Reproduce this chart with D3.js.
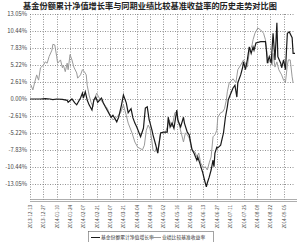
<!DOCTYPE html>
<html>
<head>
<meta charset="utf-8">
<script src="https://cdn.jsdelivr.net/npm/d3@7"></script>
<style>
  html, body { margin: 0; padding: 0; background: #fff; }
  svg { display: block; }
  text { font-family: "Noto Sans CJK SC", "DejaVu Sans", sans-serif; }
</style>
</head>
<body>
<svg id="chart" width="300" height="242"></svg>
<script>
// ---- data ----
var title = '基金份额累计净值增长率与同期业绩比较基准收益率的历史走势对比图';
var seriesNames = ['基金份额累计净值增长率', '业绩比较基准收益率'];

var tickLabels = ['2013-12-13', '2013-12-27', '2014-01-10', '2014-01-24', '2014-02-07',
  '2014-02-21', '2014-03-07', '2014-03-21', '2014-04-04', '2014-04-18',
  '2014-05-02', '2014-05-16', '2014-05-30', '2014-06-13', '2014-06-27',
  '2014-07-11', '2014-07-25', '2014-08-08', '2014-08-22', '2014-09-05'];
var tickDays = [0, 14, 28, 42, 56, 70, 84, 98, 112, 126, 140, 154, 168, 182, 196, 210, 224, 238, 252, 266];
var lastDay = 278;

var yTicks = [-13.05, -10.44, -7.83, -5.22, -2.61, 0, 2.61, 5.22, 7.83, 10.44, 13.05];

// fund: day offset / cumulative growth %
var fundDays = [0, 3, 11, 16, 21, 24, 28, 34, 39, 40, 44, 47, 49, 53, 55, 56, 58, 60, 62, 65,
  67, 69, 71, 75, 77, 79, 82, 85, 87, 91, 93, 96, 98, 101, 103, 106, 108, 110, 112, 116,
  119, 121, 123, 125, 126, 128, 129, 132, 134, 137, 140, 144, 145, 147, 149, 151, 154, 155, 158, 161,
  162, 165, 167, 170, 172, 175, 176, 178, 181, 183, 185, 186, 188, 190, 192, 193, 194, 196, 197, 200,
  202, 203, 205, 207, 208, 210, 213, 215, 217, 218, 221, 223, 224, 226, 228, 230, 232, 234, 235, 237,
  242, 247, 248, 249, 251, 253, 255, 256, 257, 259, 260, 263, 264, 266, 268, 270, 272, 275, 276, 278];
var fundValues = [0, 0, 0, 0.05, 0, -0.1, 0, -0.05, -0.2, -0.5, 0, -0.6, -0.9, 0.15, 0.9, 0.15, 1.1, -0.15, -0.9, -1.7,
  -0.15, 0.3, -0.5, 0.15, -0.6, -1.2, -2.0, -2.8, -2.5, -3.5, -2.8, -0.9, 0.6, -0.6, -2.1, -1.5, -2.9, -3.7, -4.3, -5.8,
  -4.5, -1.4, -1.2, -3.2, -3.7, -4.8, -5.5, -7.1, -8.3, -5.2, -5.1, -5.1, -2.8, -4.3, -3.7, -4.5, -1.7, -3.2, -4.3, -2.8,
  -3.7, -5.1, -5.5, -7.8, -8.3, -9.4, -8.9, -9.8, -11.2, -12.4, -13.5, -12.9, -12.0, -10.9, -9.4, -10.4, -8.3, -7.4, -7.5, -7.1,
  -5.8, -5.2, -2.8, -1.2, -0.15, 0.6, 1.7, 2.1, 0.3, 2.5, 3.7, 4.8, 5.7, 4.5, 6.0, 8.0, 7.0, 8.0, 7.5, 8.6,
  8.8, 8.8, 7.5, 5.5, 6.5, 5.5, 10.1, 8.0, 6.0, 11.7, 6.5, 5.5, 4.8, 6.0, 4.5, 10.1, 10.3, 9.4, 7.0, 7.0];

// benchmark: day offset / return %
var benchDays = [1, 3, 5, 7, 9, 11, 14, 16, 18, 20, 23, 24, 26, 28, 29, 32, 34, 35, 37, 39,
  40, 42, 44, 46, 49, 50, 53, 55, 57, 59, 60, 62, 64, 66, 67, 70, 72, 76, 78, 81,
  84, 87, 91, 95, 98, 101, 103, 107, 110, 113, 118, 120, 122, 124, 126, 128, 129, 131, 133, 134,
  137, 142, 144, 146, 149, 152, 154, 156, 160, 161, 163, 165, 167, 170, 173, 175, 177, 179, 182, 184,
  186, 188, 190, 192, 194, 196, 197, 200, 202, 204, 206, 207, 209, 212, 213, 216, 218, 221, 224, 228,
  230, 233, 234, 236, 239, 242, 245, 247, 249, 250, 252, 254, 255, 257, 259, 261, 264, 266, 268, 270,
  271, 273, 275, 276];
var benchValues = [2.15, 1.4, 2.6, 3.7, 2.9, 4.8, 5.2, 5.7, 5.5, 6.5, 7.5, 8.4, 8.3, 6.5, 5.5, 6.0, 4.8, 5.2, 4.2, 5.5,
  4.5, 6.8, 6.0, 4.9, 4.0, 3.2, 3.7, 4.5, 4.2, 3.7, 2.1, 0.6, -0.5, -1.2, -0.2, 0.9, 0.3, -0.5, -0.9, -1.4,
  -2.5, -3.2, -2.8, -2.1, -0.9, -2.5, -3.7, -5.2, -6.6, -7.4, -7.8, -7.1, -4.8, -4.0, -4.6, -6.6, -7.8, -8.1, -7.4, -8.3,
  -5.2, -5.2, -4.3, -3.2, -4.3, -2.1, -2.0, -3.7, -6.0, -6.6, -5.2, -5.5, -6.0, -7.8, -8.1, -8.9, -8.3, -9.8, -10.6, -10.4,
  -10.9, -9.8, -8.9, -5.8, -5.5, -4.8, -2.8, -2.1, -2.0, -1.5, -0.15, 1.1, 2.5, 2.9, 3.1, 2.5, 4.5, 5.2, 6.0, 4.9,
  7.2, 8.3, 9.1, 10.1, 10.9, 10.6, 10.1, 9.1, 6.5, 5.5, 6.0, 5.2, 7.0, 4.9, 5.7, 4.5, 3.7, 2.9, 2.6, 5.2,
  6.0, 6.0, 3.4, 2.5];

// ---- layout ----
var plotLeft = 30, plotRight = 295, plotTop = 14, minLineY = 184, plotBottom = 200;

var svg = d3.select('#chart');

var x = d3.scaleLinear().domain([0, lastDay]).range([plotLeft, plotRight]);
var y = d3.scaleLinear().domain([-13.05, 13.05]).range([minLineY, plotTop]);

svg.append('text')
  .attr('x', 150).attr('y', 8.5)
  .attr('text-anchor', 'middle')
  .attr('font-size', 8.2).attr('font-weight', 'bold')
  .attr('fill', '#222')
  .text(title);

// horizontal grid + y labels
var grid = svg.append('g').attr('class', 'grid');
grid.selectAll('line.h')
  .data(yTicks)
  .enter().append('line')
  .attr('class', 'h')
  .attr('x1', plotLeft).attr('x2', plotRight)
  .attr('y1', function (d) { return Math.round(y(d)) + 0.5; })
  .attr('y2', function (d) { return Math.round(y(d)) + 0.5; })
  .attr('stroke', '#777').attr('stroke-width', 0.8)
  .attr('stroke-dasharray', '1,1.5');

svg.append('g').selectAll('text')
  .data(yTicks)
  .enter().append('text')
  .attr('x', plotLeft - 3)
  .attr('y', function (d) { return y(d) + 2.2; })
  .attr('text-anchor', 'end')
  .attr('font-size', 5.8).attr('fill', '#444')
  .text(function (d) { return d.toFixed(2) + '%'; });

// vertical grid
grid.selectAll('line.v')
  .data(tickDays)
  .enter().append('line')
  .attr('class', 'v')
  .attr('x1', function (d) { return Math.round(x(d)) + 0.5; })
  .attr('x2', function (d) { return Math.round(x(d)) + 0.5; })
  .attr('y1', plotTop).attr('y2', plotBottom)
  .attr('stroke', '#777').attr('stroke-width', 0.8)
  .attr('stroke-dasharray', '1,1.5');

// double bottom axis line
[plotBottom - 0.5, plotBottom + 1.5].forEach(function (yy) {
  svg.append('line')
    .attr('x1', plotLeft).attr('x2', plotRight + 2)
    .attr('y1', yy).attr('y2', yy)
    .attr('stroke', '#999').attr('stroke-width', 0.8);
});

// x tick labels, rotated
svg.append('g').selectAll('text')
  .data(tickDays)
  .enter().append('text')
  .attr('transform', function (d) { return 'translate(' + (x(d) + 2) + ',' + (plotBottom + 5) + ') rotate(-90)'; })
  .attr('text-anchor', 'end')
  .attr('font-size', 4.6).attr('fill', '#444')
  .text(function (d, i) { return tickLabels[i]; });

// series
var line = d3.line()
  .x(function (d) { return x(d[0]); })
  .y(function (d) { return y(d[1]); });

var bench = benchDays.map(function (d, i) { return [d, benchValues[i]]; });
var fund = fundDays.map(function (d, i) { return [d, fundValues[i]]; });

svg.append('path')
  .datum(bench)
  .attr('d', line)
  .attr('fill', 'none')
  .attr('stroke', '#9a9a9a').attr('stroke-width', 1);

svg.append('path')
  .datum(fund)
  .attr('d', line)
  .attr('fill', 'none')
  .attr('stroke', '#1a1a1a').attr('stroke-width', 1.2);

// legend
var lg = svg.append('g').attr('transform', 'translate(88,231)');
lg.append('rect')
  .attr('x', 0.5).attr('y', 0.5).attr('width', 125).attr('height', 12)
  .attr('fill', '#fff').attr('stroke', '#666').attr('stroke-width', 0.6);
var items = [{ name: seriesNames[0], color: '#1a1a1a', x: 3 }, { name: seriesNames[1], color: '#9a9a9a', x: 64 }];
items.forEach(function (it) {
  lg.append('line')
    .attr('x1', it.x).attr('x2', it.x + 9)
    .attr('y1', 6.5).attr('y2', 6.5)
    .attr('stroke', it.color).attr('stroke-width', 1);
  lg.append('text')
    .attr('x', it.x + 10).attr('y', 8.3)
    .attr('font-size', 4.8).attr('fill', '#333')
    .text(it.name);
});
</script>
</body>
</html>
